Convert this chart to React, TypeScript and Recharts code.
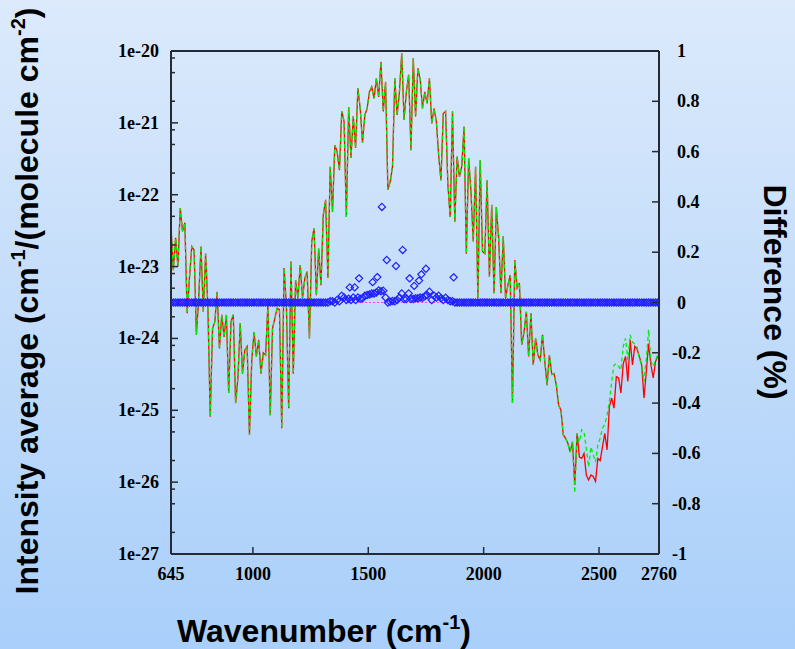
import { ComposedChart, Line, Scatter, XAxis, YAxis, ReferenceLine } from 'recharts'

// wavenumber grid (cm-1): 645, 655, ... 2755, then 2760
const WN_START = 645
const WN_STEP = 10
const WN_END = 2760

// log10 of the red (model 1) intensity average, one row = 100 cm-1
const redLog = [
  -22.45, -23.05, -22.6, -23.0, -22.19, -22.51, -22.39, -23.65, -23.16, -22.72,
  -22.77, -23.95, -23.44, -22.72, -23.63, -22.82, -23.58, -25.09, -23.86, -23.77,
  -23.35, -24.14, -23.67, -23.98, -23.67, -24.76, -23.77, -23.67, -24.9, -24.55,
  -23.79, -24.49, -24.16, -24.11, -25.34, -24.3, -23.91, -24.25, -24.02, -24.49,
  -24.2, -24.23, -23.53, -25.07, -23.86, -23.72, -23.58, -23.6, -25.25, -23.02,
  -23.53, -24.97, -22.93, -24.49, -23.19, -23.44, -22.98, -23.44, -23.16, -23.07,
  -24.0, -22.65, -22.47, -23.4, -22.75, -23.26, -22.28, -22.07, -23.16, -21.61,
  -22.24, -21.31, -21.4, -21.66, -20.84, -20.98, -22.31, -20.78, -21.49, -20.91,
  -21.35, -20.52, -20.8, -21.28, -20.89, -20.8, -20.57, -20.5, -20.66, -20.38,
  -20.64, -20.15, -20.84, -20.43, -21.93, -21.82, -21.61, -20.38, -20.89, -20.57,
  -20.03, -20.96, -20.57, -20.33, -21.38, -20.1, -20.91, -20.24, -20.4, -20.8,
  -20.57, -20.73, -20.38, -21.01, -20.8, -20.98, -21.45, -21.8, -20.87, -20.84,
  -21.86, -22.31, -20.84, -22.38, -21.47, -21.75, -21.61, -21.05, -22.82, -21.49,
  -21.96, -22.65, -21.61, -23.44, -21.52, -22.79, -22.82, -21.8, -23.14, -22.14,
  -23.37, -22.17, -22.61, -23.37, -22.58, -23.44, -23.26, -23.12, -24.9, -22.91,
  -23.3, -23.23, -24.09, -23.91, -23.63, -24.25, -23.65, -24.37, -24.0, -24.23,
  -24.3, -23.95, -24.32, -24.65, -24.23, -24.5, -24.49, -24.65, -24.93, -25.0,
  -25.34, -25.39, -25.46, -25.58, -25.44, -26.04, -25.32, -25.65, -25.67, -25.6,
  -25.9, -25.97, -25.9, -25.92, -25.99, -25.67, -25.7, -25.51, -25.32, -25.55,
  -24.95, -24.83, -24.97, -24.53, -24.55, -24.76, -24.35, -24.25, -24.6, -24.02,
  -24.37, -24.11, -24.15, -24.25, -24.37, -24.83, -24.46, -24.07, -24.37, -24.55,
  -24.32, -24.25, -24.25,
]

// green (model 2) only departs from red above 2395 cm-1
const GREEN_TAIL_START = 2395
const greenTailLog = [
  -26.15, -25.32, -25.44, -25.27, -25.3, -25.53, -25.79, -25.51, -25.62, -25.72,
  -25.48, -25.39, -25.25, -25.2, -25.07, -24.88, -24.6, -24.37, -24.35, -24.39,
  -24.44, -24.11, -24.0, -24.3, -23.95, -24.05, -24.08, -24.12, -24.28, -24.37,
  -24.6, -24.28, -23.88, -24.32, -24.39, -24.3, -24.22, -24.22,
]

// difference (%) on the same grid
const diffBase = [
  0, 0, 0, 0, 0, 0, 0, 0, 0, 0,
  0, 0, 0, 0, 0, 0, 0, 0, 0, 0,
  0, 0, 0, 0, 0, 0, 0, 0, 0, 0,
  0, 0, 0, 0, 0, 0, 0, 0, 0, 0,
  0, 0, 0, 0, 0, 0, 0, 0, 0, 0,
  0, 0, 0, 0, 0, 0, 0, 0, 0, 0,
  0, 0, 0, 0, 0, 0, 0, 0, 0, 0.005,
  0.005, 0, 0.01, 0.005, 0.027, 0.02, 0.01, 0.015, 0.01, 0.02,
  0.01, 0.02, 0.015, 0.017, 0.027, 0.03, 0.032, 0.036, 0.036, 0.04,
  0.048, 0.045, 0.047, 0.02, 0, 0.003, 0.006, 0.005, 0.01, 0.02,
  0.036, 0.014, 0.014, 0.036, 0.014, 0.014, 0.017, 0.017, 0.02, 0.019,
  0.025, 0.03, 0.043, 0.01, 0.027, 0.02, 0.027, 0.017, 0.01, 0.019,
  0.01, 0.005, 0.005, 0, 0, 0, 0, 0, 0, 0,
  0, 0, 0, 0, 0, 0, 0, 0, 0, 0,
  0, 0, 0, 0, 0, 0, 0, 0, 0, 0,
  0, 0, 0, 0, 0, 0, 0, 0, 0, 0,
  0, 0, 0, 0, 0, 0, 0, 0, 0, 0,
  0, 0, 0, 0, 0, 0, 0, 0, 0, 0,
  0, 0, 0, 0, 0, 0, 0, 0, 0, 0,
  0, 0, 0, 0, 0, 0, 0, 0, 0, 0,
  0, 0, 0, 0, 0, 0, 0, 0, 0, 0,
  0, 0, 0,
]

// the larger differences between grid points
const peakWn = [1420, 1441, 1460, 1519, 1539, 1559, 1580, 1620, 1649, 1679, 1699, 1720, 1730, 1750, 1870]
const peakDiff = [0.06, 0.06, 0.096, 0.081, 0.101, 0.38, 0.169, 0.145, 0.209, 0.096, 0.066, 0.087, 0.112, 0.134, 0.1]

const xTicks = [645, 1000, 1500, 2000, 2500, 2760]
const rightTicks = [-1, -0.8, -0.6, -0.4, -0.2, 0, 0.2, 0.4, 0.6, 0.8, 1]
const decades = [-27, -26, -25, -24, -23, -22, -21, -20]
const minorSteps = [2, 5, 8]

const wnGrid = redLog.map((_, i) => Math.min(WN_START + i * WN_STEP, WN_END))
const tailOffset = wnGrid.indexOf(GREEN_TAIL_START)

const data = wnGrid.map((wn, i) => ({
  wn,
  red: 10 ** redLog[i],
  green: 10 ** (i >= tailOffset ? greenTailLog[i - tailOffset] : redLog[i]),
}))
const diffData = [
  ...wnGrid.map((wn, i) => ({ wn, diff: diffBase[i] })),
  ...peakWn.map((wn, i) => ({ wn, diff: peakDiff[i] })),
]

const leftTicks = decades.flatMap((d) => [10 ** d, ...(d < -20 ? minorSteps.map((m) => m * 10 ** d) : [])])

const AXIS = '#262b33'
const tickFont = { fontFamily: '"Liberation Serif", serif', fontWeight: 700, fontSize: 18, fill: '#000' }
const titleFont = { fontFamily: '"Liberation Sans", Arial, sans-serif', fontWeight: 700, fontSize: 32, fill: '#000' }

const LeftTick = ({ x, y, payload }: any) => {
  const lg = Math.log10(payload.value)
  const exp = Math.round(lg)
  const major = Math.abs(lg - exp) < 1e-6
  return (
    <g>
      <line x1={x} x2={x + (major ? 7 : 4)} y1={y} y2={y} stroke={AXIS} strokeWidth={1.5} />
      {major && (
        <text x={x - 12} y={y + 6} textAnchor="end" {...tickFont}>{`1e${exp}`}</text>
      )}
    </g>
  )
}

const RightTick = ({ x, y, payload }: any) => {
  const v = payload.value
  const label = Number(v.toFixed(1)).toString()
  const edge = v === 1 || v === -1
  return (
    <g>
      {!edge && <line x1={x} x2={x - 7} y1={y} y2={y} stroke={AXIS} strokeWidth={1.5} />}
      <text x={x + (v < 0 ? 13 : 18)} y={y + 6} textAnchor="start" {...tickFont}>{label}</text>
    </g>
  )
}

const BottomTick = ({ x, y, payload }: any) => {
  const v = payload.value
  const edge = v === 645 || v === 2760
  return (
    <g>
      {!edge && <line x1={x} x2={x} y1={y} y2={y - 7} stroke={AXIS} strokeWidth={1.5} />}
      <text x={x} y={y + 26} textAnchor="middle" {...tickFont}>{v}</text>
    </g>
  )
}

const Diamond = ({ cx, cy }: any) => {
  if (cx == null || cy == null) return null
  const r = 3.6
  return (
    <path
      d={`M${cx},${cy - r}L${cx + r},${cy}L${cx},${cy + r}L${cx - r},${cy}Z`}
      fill="none"
      stroke="#1f1fff"
      strokeWidth={1.2}
    />
  )
}

export default function App() {
  return (
    <div
      style={{
        position: 'absolute',
        left: 0,
        top: 0,
        width: 795,
        height: 649,
        background: 'linear-gradient(to bottom, #dceafc 0%, #c2dcfa 50%, #a9cffa 100%)',
        overflow: 'hidden',
      }}
    >
      <ComposedChart width={795} height={649} data={data} margin={{ top: 0, right: 0, bottom: 0, left: 0 }}>
        <XAxis
          dataKey="wn"
          type="number"
          domain={[645, 2760]}
          ticks={xTicks}
          interval={0}
          height={95}
          tickSize={0}
          tickMargin={0}
          tick={<BottomTick />}
          axisLine={{ stroke: AXIS, strokeWidth: 2 }}
          allowDataOverflow
        />
        <XAxis
          xAxisId="top"
          orientation="top"
          type="number"
          domain={[645, 2760]}
          height={51}
          tick={false}
          tickLine={false}
          axisLine={{ stroke: AXIS, strokeWidth: 2 }}
        />
        <YAxis
          yAxisId="left"
          scale="log"
          domain={[1e-27, 1e-20]}
          ticks={leftTicks}
          interval={0}
          width={171}
          tickSize={0}
          tickMargin={0}
          tick={<LeftTick />}
          axisLine={{ stroke: AXIS, strokeWidth: 2 }}
          allowDataOverflow
        />
        <YAxis
          yAxisId="right"
          orientation="right"
          domain={[-1, 1]}
          ticks={rightTicks}
          interval={0}
          width={136}
          tickSize={0}
          tickMargin={0}
          tick={<RightTick />}
          axisLine={{ stroke: AXIS, strokeWidth: 2 }}
        />
        <ReferenceLine yAxisId="right" y={0} stroke="#ff40ff" strokeDasharray="2 2" strokeWidth={1} />
        <Line
          yAxisId="left"
          type="linear"
          dataKey="red"
          stroke="#ff0000"
          strokeWidth={1.3}
          dot={false}
          isAnimationActive={false}
        />
        <Line
          yAxisId="left"
          type="linear"
          dataKey="green"
          stroke="#00ee00"
          strokeWidth={1.3}
          strokeDasharray="4 3"
          dot={false}
          isAnimationActive={false}
        />
        <Scatter
          yAxisId="right"
          data={diffData}
          dataKey="diff"
          shape={<Diamond />}
          isAnimationActive={false}
        />
      </ComposedChart>
      <svg
        width={795}
        height={649}
        style={{ position: 'absolute', left: 0, top: 0, pointerEvents: 'none' }}
      >
        <text x={38} y={301} textAnchor="middle" transform="rotate(-90 38 301)" {...titleFont}>
          Intensity average (cm
          <tspan fontSize={20} dy={-13}>-1</tspan>
          <tspan dy={13}>/(molecule cm</tspan>
          <tspan fontSize={20} dy={-13}>-2</tspan>
          <tspan dy={13}>)</tspan>
        </text>
        <text x={764} y={292} textAnchor="middle" transform="rotate(90 764 292)" {...titleFont}>
          Difference (%)
        </text>
        <text x={324} y={642} textAnchor="middle" {...titleFont}>
          Wavenumber (cm
          <tspan fontSize={20} dy={-13}>-1</tspan>
          <tspan dy={13}>)</tspan>
        </text>
      </svg>
    </div>
  )
}
